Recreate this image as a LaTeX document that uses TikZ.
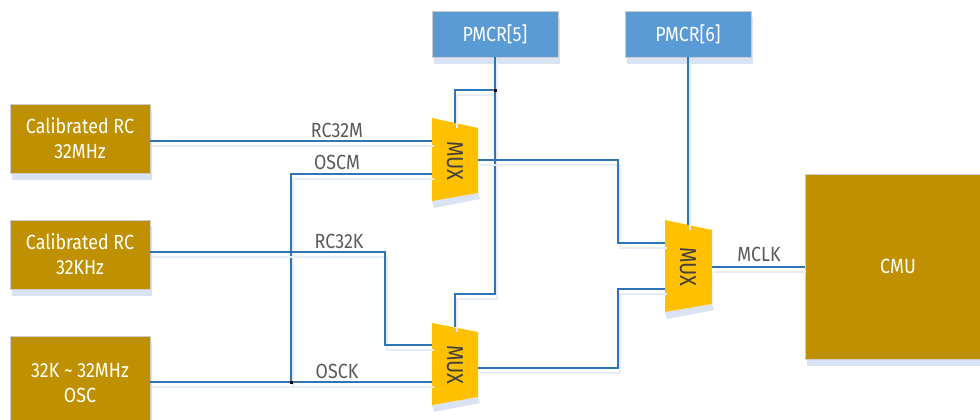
\documentclass[tikz,border=0pt]{standalone}
\usepackage{fontspec}
\setmainfont{Fira Sans}[FakeStretch=0.87]
\definecolor{gold}{HTML}{BF9000}
\definecolor{pmblue}{HTML}{5B9BD5}
\definecolor{muxyel}{HTML}{FFC000}
\definecolor{wire}{HTML}{2E75B6}
\definecolor{shade}{HTML}{DAE3F3}
\definecolor{wshade}{HTML}{E6EDF7}
\definecolor{lbl}{HTML}{595959}
\definecolor{muxtxt}{HTML}{404040}
\tikzset{
  blk/.style={draw=black!20, line width=0.6pt, fill=gold, text=white, align=center, inner sep=0pt,
    font=\fontsize{20.5}{25}\selectfont},
  pmbox/.style={draw=black!20, line width=0.6pt, fill=pmblue, text=white, inner sep=0pt,
    minimum width=126, minimum height=46, font=\fontsize{20.5}{22}\selectfont},
  boxshade/.style={fill=shade, draw=none},
  wireline/.style={draw=wire, line width=1.2pt,
    preaction={draw=wshade, line width=2pt, transform canvas={shift={(1.5pt,-5pt)}}}},
  siglabel/.style={text=lbl, font=\fontsize{20.5}{22}\selectfont, inner sep=0pt},
  muxshape/.style={fill=muxyel, draw=none},
  muxlabel/.style={text=muxtxt, rotate=-90, font=\fontsize{23}{24}\selectfont, inner sep=0pt},
  jdot/.style={fill=black, draw=none, minimum size=3pt, inner sep=0pt, rectangle}
}
\begin{document}
\begin{tikzpicture}[x=1pt,y=-1pt]
\useasboundingbox (0,0) rectangle (980,420);
\begin{scope}
\clip (0,0) rectangle (980,420);
% shadows of boxes
\fill[boxshade] (12,110) rectangle (152,180);
\fill[boxshade] (12,226) rectangle (152,296);
\fill[boxshade] (12,342) rectangle (152,440);
\fill[boxshade] (434,17) rectangle (560,64);
\fill[boxshade] (627,17) rectangle (753,64);
\fill[boxshade] (807,180) rectangle (995,366);
% mux shadows
\fill[boxshade] (432,201) -- (478,193) -- (480,199) -- (434,208) -- cycle;
\fill[boxshade] (432,405) -- (478,397) -- (480,403) -- (434,412) -- cycle;
\fill[boxshade] (665,312) -- (712,304) -- (714,310) -- (667,319) -- cycle;

% blocks
\node[blk, minimum width=140, minimum height=69] (b1) at (80,138.5) {Calibrated RC\\32MHz};
\node[blk, minimum width=140, minimum height=69] (b2) at (80,254.5) {Calibrated RC\\32KHz};
\node[blk, minimum width=140, minimum height=94] (b3) at (80,383) {};
\node[text=white, align=center, font=\fontsize{20.5}{25}\selectfont] (b3t) at (80,383) {32K \char"7E{} 32MHz\\OSC};
\node[pmbox] (p5) at (495,34) {PMCR[5]};
\node[pmbox] (p6) at (688,34) {PMCR[6]};
\node[blk, minimum width=186, minimum height=185] (cmu) at (898,266.5) {CMU};

% muxes
\fill[muxshape] (432,118) -- (478,128) -- (478,193) -- (432,201) -- cycle;
\fill[muxshape] (432,323) -- (478,332) -- (478,397) -- (432,405) -- cycle;
\fill[muxshape] (665,220) -- (712,230) -- (712,304) -- (665,312) -- cycle;
\node[muxlabel] (m1) at (455,161) {MUX};
\node[muxlabel] (m2) at (455,365) {MUX};
\node[muxlabel] (m3) at (688,267) {MUX};

% port coordinates
\coordinate (m1a) at (432,141);
\coordinate (m1b) at (432,174);
\coordinate (m1s) at (455,123);
\coordinate (m1o) at (478,160);
\coordinate (m2a) at (432,345);
\coordinate (m2b) at (432,382);
\coordinate (m2s) at (455,327);
\coordinate (m2o) at (478,368);
\coordinate (m3a) at (665,243);
\coordinate (m3b) at (665,289);
\coordinate (m3s) at (688,225);
\coordinate (m3o) at (712,267);
\coordinate (j1) at (291,382);
\coordinate (j5) at (495,90);

% wires
\path[wireline] (b1.east |- m1a) -- (m1a);
\path[wireline] (m1b) -- (291,174) -- (j1);
\path[wireline] (b2.east |- 0,252) -- (385,252) -- (385,345) -- (m2a);
\path[wireline] (b3.east |- m2b) -- (m2b);
\path[wireline] (p5.south) -- (j5) -- (455,90) -- (m1s);
\path[wireline] (j5) -- (495,294) -- (455,294) -- (m2s);
\path[wireline] (m1o) -- (618,160) -- (618,243) -- (m3a);
\path[wireline] (m2o) -- (618,368) -- (618,289) -- (m3b);
\path[wireline] (p6.south) -- (m3s);
\path[wireline] (m3o) -- (cmu.west |- m3o);

\node[jdot] at (j1) {};
\node[jdot] at (j5) {};

% labels
\node[siglabel] (l1) at (337,130) {RC32M};
\node[siglabel] (l2) at (337,162) {OSCM};
\node[siglabel] (l3) at (339,241) {RC32K};
\node[siglabel] (l4) at (337,371) {OSCK};
\node[siglabel] (l5) at (759,254) {MCLK};
\end{scope}
\end{tikzpicture}
\end{document}
